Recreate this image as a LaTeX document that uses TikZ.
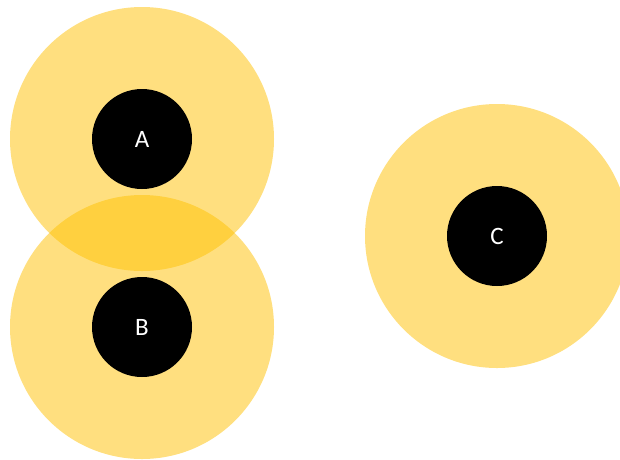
\documentclass[tikz,border=0pt]{standalone}
\usepackage{fontspec}
\setmainfont{Carlito}
\definecolor{gold}{HTML}{FFC000}
\begin{document}
\begin{tikzpicture}[x=1pt,y=-1pt,
  halo/.style={circle,fill=gold,fill opacity=0.5,minimum size=264pt,inner sep=0pt},
  core/.style={circle,fill=black,minimum size=100pt,inner sep=0pt,text=white,font=\fontsize{25}{30}\selectfont}]
\useasboundingbox (0,0) rectangle (620,459);
\clip (0,0) rectangle (620,459);
\node[halo] (ha) at (142,139) {};
\node[halo] (hb) at (142,327) {};
\node[halo] (hc) at (497,236) {};
\node[core] (a) at (142,139) {A};
\node[core] (b) at (142,327) {B};
\node[core] (c) at (497,236) {C};
\end{tikzpicture}
\end{document}
